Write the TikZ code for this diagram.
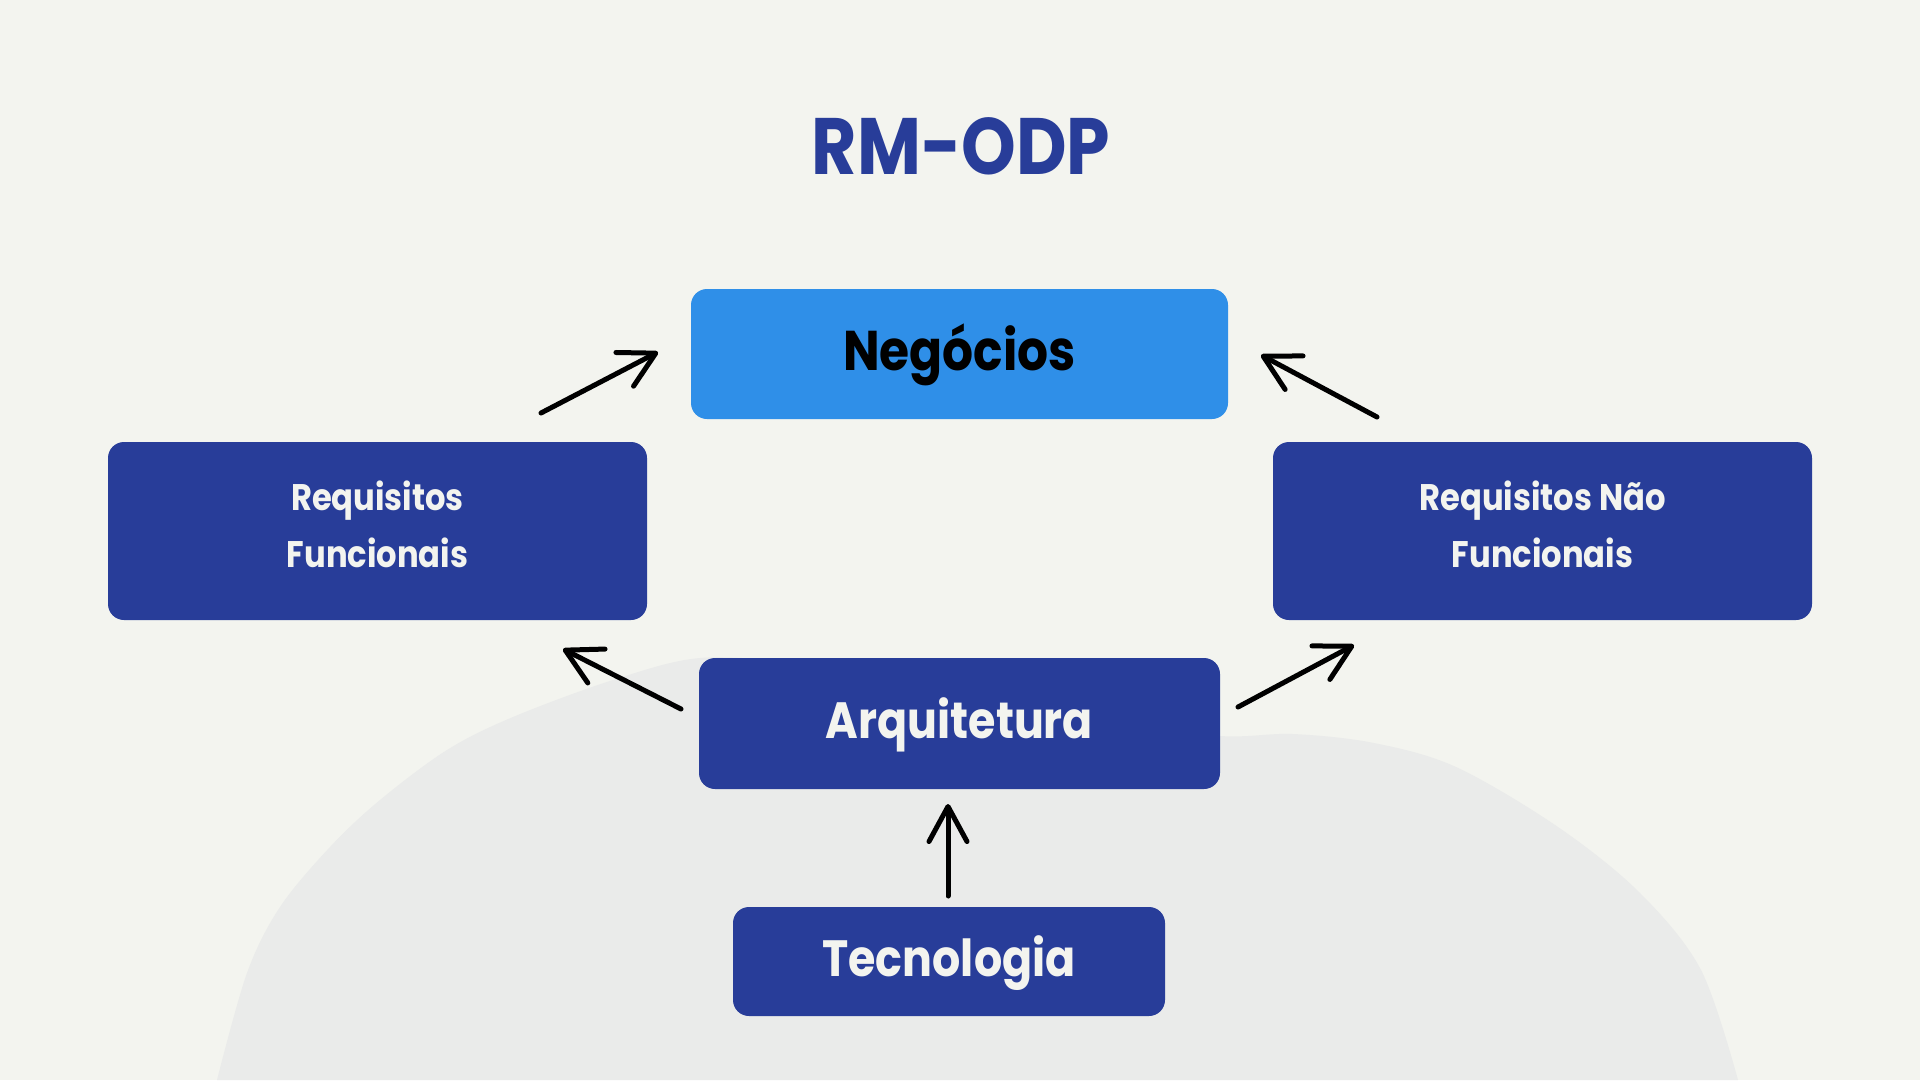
\documentclass[tikz,border=0pt]{standalone}
\usepackage{fontspec}
\setmainfont{Poppins}[BoldFont={Poppins Bold}, FakeStretch=0.87]
\usetikzlibrary{arrows.meta}
\definecolor{bgc}{HTML}{F3F4EF}
\definecolor{blobc}{HTML}{EAEBEA}
\definecolor{navy}{HTML}{283D99}
\definecolor{skyb}{HTML}{2F8FE8}
\definecolor{txtw}{HTML}{F3F4EF}
\begin{document}
\begin{tikzpicture}[x=1pt,y=-1pt,
  darkbox/.style={fill=navy, rounded corners=16pt, inner sep=0pt, text=txtw, align=center, font=\bfseries},
  arr/.style={line width=5pt, line cap=round, -{Straight Barb[length=35pt,width=38pt,round]}},
]
\useasboundingbox (0,0) rectangle (1920,1080);
\fill[bgc] (0,0) rectangle (1920,1080);
% background blob
\fill[blobc] plot[smooth, tension=0.55] coordinates {(217,1080) (247,973) (280,907) (330,847) (380,800) (447,750) (513,717) (613,680) (700,658) (800,664) (960,690) (1100,722) (1220,736) (1293,734) (1374,743) (1456,767) (1558,827) (1640,893) (1701,970) (1738,1080)} -- cycle;

% title
\node[anchor=base, text=navy, font=\bfseries\fontsize{80}{90}\selectfont] (title) at (961,174) {RM-ODP};

% boxes
\node[fill=skyb, rounded corners=16pt, minimum width=537pt, minimum height=130pt, inner sep=0pt,
      font=\bfseries\fontsize{56}{60}\selectfont, text height=39pt, text depth=6pt] (neg) at (959.5,354) {Negócios};
\node[darkbox, minimum width=539pt, minimum height=178pt, text depth=14pt,
      font=\bfseries\fontsize{37}{57}\selectfont] (rf) at (377.5,531) {Requisitos\\Funcionais};
\node[darkbox, minimum width=539pt, minimum height=178pt, text depth=14pt,
      font=\bfseries\fontsize{37}{57}\selectfont] (rnf) at (1542.5,531) {Requisitos Não\\Funcionais};
\node[darkbox, minimum width=521pt, minimum height=131pt,
      font=\bfseries\fontsize{51}{60}\selectfont, text height=36pt, text depth=6pt] (arq) at (959.5,723.5) {Arquitetura};
\node[darkbox, minimum width=432pt, minimum height=109pt,
      font=\bfseries\fontsize{51}{60}\selectfont, text height=36pt, text depth=6pt] (tec) at (949,961.5) {Tecnologia};

% arrow end points
\coordinate (a1s) at (541,413);  \coordinate (a1e) at (658,352);
\coordinate (a2s) at (1377,417); \coordinate (a2e) at (1261,355);
\coordinate (a3s) at (681,709);  \coordinate (a3e) at (563,649);
\coordinate (a4s) at (1238,707); \coordinate (a4e) at (1354,645);
\coordinate (a5s) at (948,896);  \coordinate (a5e) at (948,804);

\draw[arr] (a1s) -- (a1e);
\draw[arr] (a2s) -- (a2e);
\draw[arr] (a3s) -- (a3e);
\draw[arr] (a4s) -- (a4e);
\draw[arr] (a5s) -- (a5e);
\end{tikzpicture}
\end{document}
